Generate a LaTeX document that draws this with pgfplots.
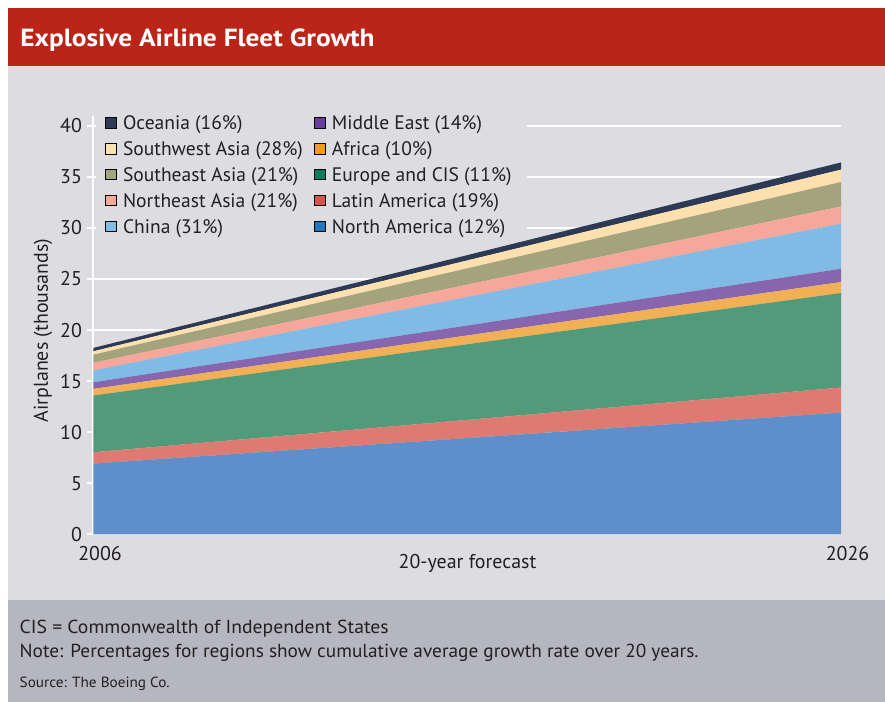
\documentclass[border=0pt]{standalone}
\usepackage{fontspec}
\setmainfont{PT Sans}
\usepackage{pgfplots}
\pgfplotsset{compat=1.18}
\definecolor{redC}{HTML}{BB2419}
\definecolor{bgC}{HTML}{DCDCE1}
\definecolor{footC}{HTML}{B6B6C0}
\definecolor{textC}{HTML}{231F20}
% chart fills
\definecolor{naF}{HTML}{5F8FCA}
\definecolor{laF}{HTML}{DD7B73}
\definecolor{euF}{HTML}{519A7A}
\definecolor{afF}{HTML}{F2B055}
\definecolor{meF}{HTML}{8766AD}
\definecolor{chF}{HTML}{80BBE6}
\definecolor{neF}{HTML}{F7A79A}
\definecolor{seF}{HTML}{A3A47C}
\definecolor{swF}{HTML}{FDE0AE}
\definecolor{ocF}{HTML}{2C3A56}
% legend colours
\definecolor{naL}{HTML}{1F75BE}
\definecolor{laL}{HTML}{D9534F}
\definecolor{euL}{HTML}{0A7D5B}
\definecolor{afL}{HTML}{F19C1F}
\definecolor{meL}{HTML}{6A3C9B}
\definecolor{chL}{HTML}{80BEE9}
\definecolor{neL}{HTML}{F9A99A}
\definecolor{seL}{HTML}{A3A57A}
\definecolor{swL}{HTML}{FEE2AE}
\definecolor{ocL}{HTML}{2B3A57}
\newcommand{\cw}[1]{\makebox[92.4bp][l]{#1}}
\begin{document}
\begin{tikzpicture}
\fill[white] (0,0) rectangle (442.5bp,351bp);
\fill[redC] (4bp,318bp) rectangle (442.5bp,347bp);
\fill[bgC] (4bp,51bp) rectangle (442.5bp,318bp);
\fill[footC] (4bp,0bp) rectangle (442.5bp,51bp);
\node[anchor=base west, inner sep=0pt, text=white] at (10bp,327.65bp)
  {\resizebox{177bp}{8.85bp}{\bfseries Explosive Airline Fleet Growth}};
\node[anchor=base west, inner sep=0pt, text=textC] at (9.65bp,34.15bp)
  {\resizebox{184.5bp}{6.7bp}{CIS = Commonwealth of Independent States}};
\node[anchor=base west, inner sep=0pt, text=textC] at (9.65bp,22.15bp)
  {\resizebox{339.4bp}{6.7bp}{Note: Percentages for regions show cumulative average growth rate over 20 years.}};
\node[anchor=base west, inner sep=0pt, text=textC] at (9.65bp,7.15bp)
  {\resizebox{74.9bp}{5.25bp}{Source: The Boeing Co.}};
\begin{axis}[
  at={(46.75bp,83.75bp)}, anchor=south west,
  scale only axis, width=373.75bp, height=209.5bp,
  xmin=2006, xmax=2026, ymin=0, ymax=41,
  xtick={2006,2026}, xticklabels={2006,2026},
  ytick={0,5,...,40},
  axis x line=bottom, axis y line=left,
  axis line style={draw=white, line width=1bp, -},
  tick align=outside, major tick length=3.3bp,
  ytick style={draw=white, line width=1bp},
  xtick style={draw=none},
  ymajorgrids, grid style={white, line width=1bp},
  /pgf/number format/assume math mode=true,
  tick label style={font=\fontsize{10}{12}\selectfont, text=textC},
  yticklabel style={anchor=east, inner sep=0pt, xshift=-2.3bp},
  xticklabel style={anchor=north, inner sep=0pt, xshift=3.3bp, yshift=-2.5bp},
  xlabel={20-year forecast}, ylabel={Airplanes (thousands)},
  label style={font=\fontsize{10}{12}\selectfont, text=textC},
  xlabel style={at={(axis description cs:0.5003,-0.069)}, anchor=center},
  ylabel style={at={(axis description cs:-0.0676,0.487)}, anchor=center},
  stack plots=y,
  legend columns=2, legend cell align=left,
  legend image code/.code={\fill[#1] (0bp,-2.625bp) rectangle (5.25bp,2.625bp);},
  legend style={at={(axis description cs:0.0033,1.0074)}, anchor=north west,
    draw=none, fill=bgC, inner xsep=4.5bp, inner ysep=0pt,
    row sep=2.93bp, column sep=0pt, font=\fontsize{9.8}{12}\selectfont, text=textC,
    nodes={inner xsep=3.2bp, inner ysep=0pt, text height=8.5bp, text depth=1.5bp}},
]
\addplot[fill=naF, draw=none, forget plot] coordinates {(2006,6.94) (2026,11.93)} \closedcycle;
\addplot[fill=laF, draw=none, forget plot] coordinates {(2006,1.11) (2026,2.45)} \closedcycle;
\addplot[fill=euF, draw=none, forget plot] coordinates {(2006,5.55) (2026,9.25)} \closedcycle;
\addplot[fill=afF, draw=none, forget plot] coordinates {(2006,0.65) (2026,1.07)} \closedcycle;
\addplot[fill=meF, draw=none, forget plot] coordinates {(2006,0.65) (2026,1.30)} \closedcycle;
\addplot[fill=chF, draw=none, forget plot] coordinates {(2006,1.17) (2026,4.42)} \closedcycle;
\addplot[fill=neF, draw=none, forget plot] coordinates {(2006,0.73) (2026,1.68)} \closedcycle;
\addplot[fill=seF, draw=none, forget plot] coordinates {(2006,0.80) (2026,2.39)} \closedcycle;
\addplot[fill=swF, draw=none, forget plot] coordinates {(2006,0.33) (2026,1.21)} \closedcycle;
\addplot[fill=ocF, draw=none, forget plot] coordinates {(2006,0.33) (2026,0.71)} \closedcycle;
\addlegendimage{fill=ocL}\addlegendentry{\cw{Oceania (16\%)}}
\addlegendimage{fill=meL}\addlegendentry{Middle East (14\%)}
\addlegendimage{fill=swL}\addlegendentry{\cw{Southwest Asia (28\%)}}
\addlegendimage{fill=afL}\addlegendentry{Africa (10\%)}
\addlegendimage{fill=seL}\addlegendentry{\cw{Southeast Asia (21\%)}}
\addlegendimage{fill=euL}\addlegendentry{Europe and CIS (11\%)}
\addlegendimage{fill=neL}\addlegendentry{\cw{Northeast Asia (21\%)}}
\addlegendimage{fill=laL}\addlegendentry{Latin America (19\%)}
\addlegendimage{fill=chL}\addlegendentry{\cw{China (31\%)}}
\addlegendimage{fill=naL}\addlegendentry{North America (12\%)}
\end{axis}
\end{tikzpicture}
\end{document}
